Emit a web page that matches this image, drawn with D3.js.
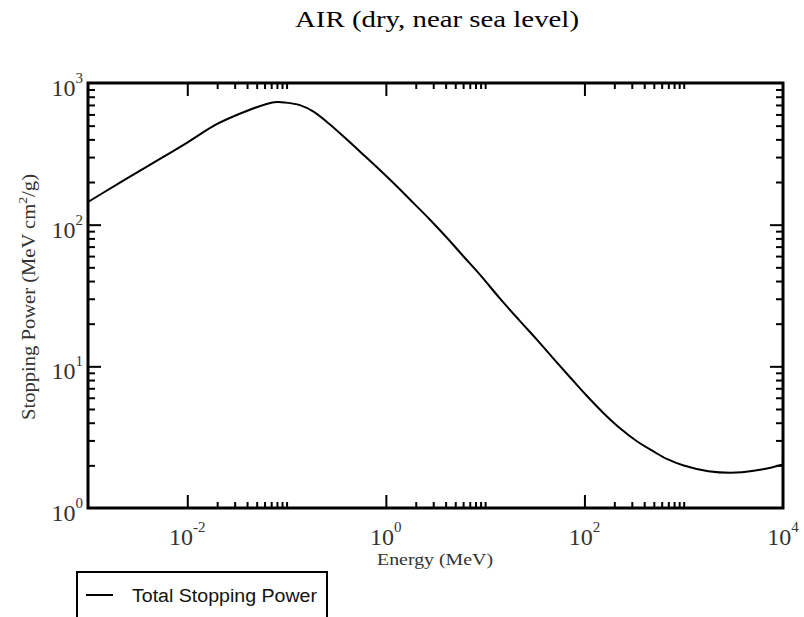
<!DOCTYPE html>
<html>
<head>
<meta charset="utf-8">
<script src="https://cdn.jsdelivr.net/npm/d3@7"></script>
<style>
  body { margin: 0; background: #fff; }
</style>
</head>
<body>
<script>
// proton total stopping power in dry air
var energy = [0.001, 0.002, 0.004, 0.01, 0.02, 0.042, 0.063, 0.08, 0.096, 0.136, 0.185, 0.27,
  0.4, 0.59, 0.87, 1.28, 1.9, 2.8, 4.1, 6, 8.9, 14, 22, 33, 49, 72, 105, 155, 230, 335,
  495, 675, 1000, 1770, 3400, 6300, 10000];
var stopping = [144.5, 194, 259, 380, 514, 645, 711, 733, 728, 698, 630, 514,
  402, 313, 243, 187.5, 142, 108, 81.2, 60.1, 44.2, 30.3, 21.2, 15.5, 11.3, 8.34, 6.22, 4.69, 3.64, 2.97,
  2.51, 2.22, 1.995, 1.82, 1.78, 1.88, 2.03];

var xLabelExps = [-2, 0, 2, 4];
var yLabelExps = [0, 1, 2, 3];
var seriesName = "Total Stopping Power";
var title = "AIR (dry, near sea level)";

var SERIF = "'Liberation Serif', 'Times New Roman', serif";
var SANS = "'Liberation Sans', Arial, sans-serif";

var W = 804, H = 617;
var pl = 88, pr = 783, pt = 83, pb = 508;

var svg = d3.select("body").append("svg").attr("width", W).attr("height", H);

var x = d3.scaleLog().domain([1e-3, 1e4]).range([pl, pr]);
var y = d3.scaleLog().domain([1, 1e3]).range([pb, pt]);

// major ticks every two decades on x, with minors after each one
var xMajor = [1e-2, 1e0, 1e2];
var xMinor = [];
xMajor.forEach(function (m) {
  for (var k = 2; k <= 10; k++) xMinor.push(k * m);
});
var yMajor = [1e1, 1e2];
var yMinor = [];
[1, 10, 100].forEach(function (m) {
  for (var k = 2; k <= 9; k++) yMinor.push(k * m);
});

function ticks(axis, scale, vals, size, tr) {
  var g = svg.append("g")
    .attr("transform", tr)
    .call(axis(scale).tickValues(vals).tickSize(size).tickFormat(""));
  g.select(".domain").remove();
  g.selectAll("line").attr("stroke", "#000").attr("stroke-width", 2);
}

ticks(d3.axisBottom, x, xMajor, -13, "translate(0," + pb + ")");
ticks(d3.axisBottom, x, xMinor, -6, "translate(0," + pb + ")");
ticks(d3.axisTop, x, xMajor, -13, "translate(0," + pt + ")");
ticks(d3.axisTop, x, xMinor, -6, "translate(0," + pt + ")");
ticks(d3.axisLeft, y, yMajor, -13, "translate(" + pl + ",0)");
ticks(d3.axisLeft, y, yMinor, -7, "translate(" + pl + ",0)");
ticks(d3.axisRight, y, yMajor, -13, "translate(" + pr + ",0)");
ticks(d3.axisRight, y, yMinor, -7, "translate(" + pr + ",0)");

// frame
svg.append("rect")
  .attr("x", pl).attr("y", pt)
  .attr("width", pr - pl).attr("height", pb - pt)
  .attr("fill", "none").attr("stroke", "#000").attr("stroke-width", 3);

// curve
var pts = energy.map(function (e, i) { return [e, stopping[i]]; });
var line = d3.line()
  .x(function (d) { return x(d[0]); })
  .y(function (d) { return y(d[1]); })
  .curve(d3.curveCatmullRom.alpha(0.5));
svg.append("path")
  .datum(pts)
  .attr("d", line)
  .attr("fill", "none")
  .attr("stroke", "#000")
  .attr("stroke-width", 2);

// tick labels, "10" with a raised exponent
function powLabel(sel, exp) {
  sel.append("tspan").style("font-size", "24px").text("10");
  sel.append("tspan").style("font-size", "15px").attr("dy", -13).text(exp);
}

xLabelExps.forEach(function (e) {
  var t = svg.append("text")
    .attr("x", x(Math.pow(10, e)))
    .attr("y", 545)
    .attr("text-anchor", "middle")
    .style("font-family", SERIF)
    .attr("fill", "#333");
  powLabel(t, e < 0 ? "-" + (-e) : "" + e);
});

yLabelExps.forEach(function (e) {
  var t = svg.append("text")
    .attr("x", 83)
    .attr("y", y(Math.pow(10, e)) + 13)
    .attr("text-anchor", "end")
    .style("font-family", SERIF)
    .attr("fill", "#333");
  powLabel(t, "" + e);
});

// titles
svg.append("text")
  .attr("x", 437)
  .attr("y", 27)
  .attr("text-anchor", "middle")
  .attr("textLength", 284)
  .attr("lengthAdjust", "spacingAndGlyphs")
  .style("font-family", SERIF)
  .style("font-size", "24px")
  .attr("fill", "#000")
  .text(title);

svg.append("text")
  .attr("x", 435)
  .attr("y", 565)
  .attr("text-anchor", "middle")
  .attr("textLength", 116)
  .attr("lengthAdjust", "spacingAndGlyphs")
  .style("font-family", SERIF)
  .style("font-size", "17px")
  .attr("fill", "#333")
  .text("Energy (MeV)");

var yl = svg.append("text")
  .attr("transform", "translate(35,297) rotate(-90)")
  .attr("text-anchor", "middle")
  .attr("textLength", 246)
  .attr("lengthAdjust", "spacingAndGlyphs")
  .style("font-family", SERIF)
  .style("font-size", "18px")
  .attr("fill", "#333");
yl.append("tspan").text("Stopping Power (MeV cm");
yl.append("tspan").style("font-size", "12px").attr("dy", -8).text("2");
yl.append("tspan").attr("dy", 8).text("/g)");

// legend
var lg = svg.append("g");
lg.append("rect")
  .attr("x", 77).attr("y", 572)
  .attr("width", 250).attr("height", 80)
  .attr("fill", "#fff").attr("stroke", "#000").attr("stroke-width", 2);
lg.append("line")
  .attr("x1", 86).attr("x2", 113)
  .attr("y1", 595).attr("y2", 595)
  .attr("stroke", "#000").attr("stroke-width", 2);
lg.append("text")
  .attr("x", 132).attr("y", 602)
  .attr("textLength", 185)
  .attr("lengthAdjust", "spacingAndGlyphs")
  .style("font-family", SANS)
  .style("font-size", "18px")
  .attr("fill", "#111")
  .text(seriesName);
</script>
</body>
</html>
